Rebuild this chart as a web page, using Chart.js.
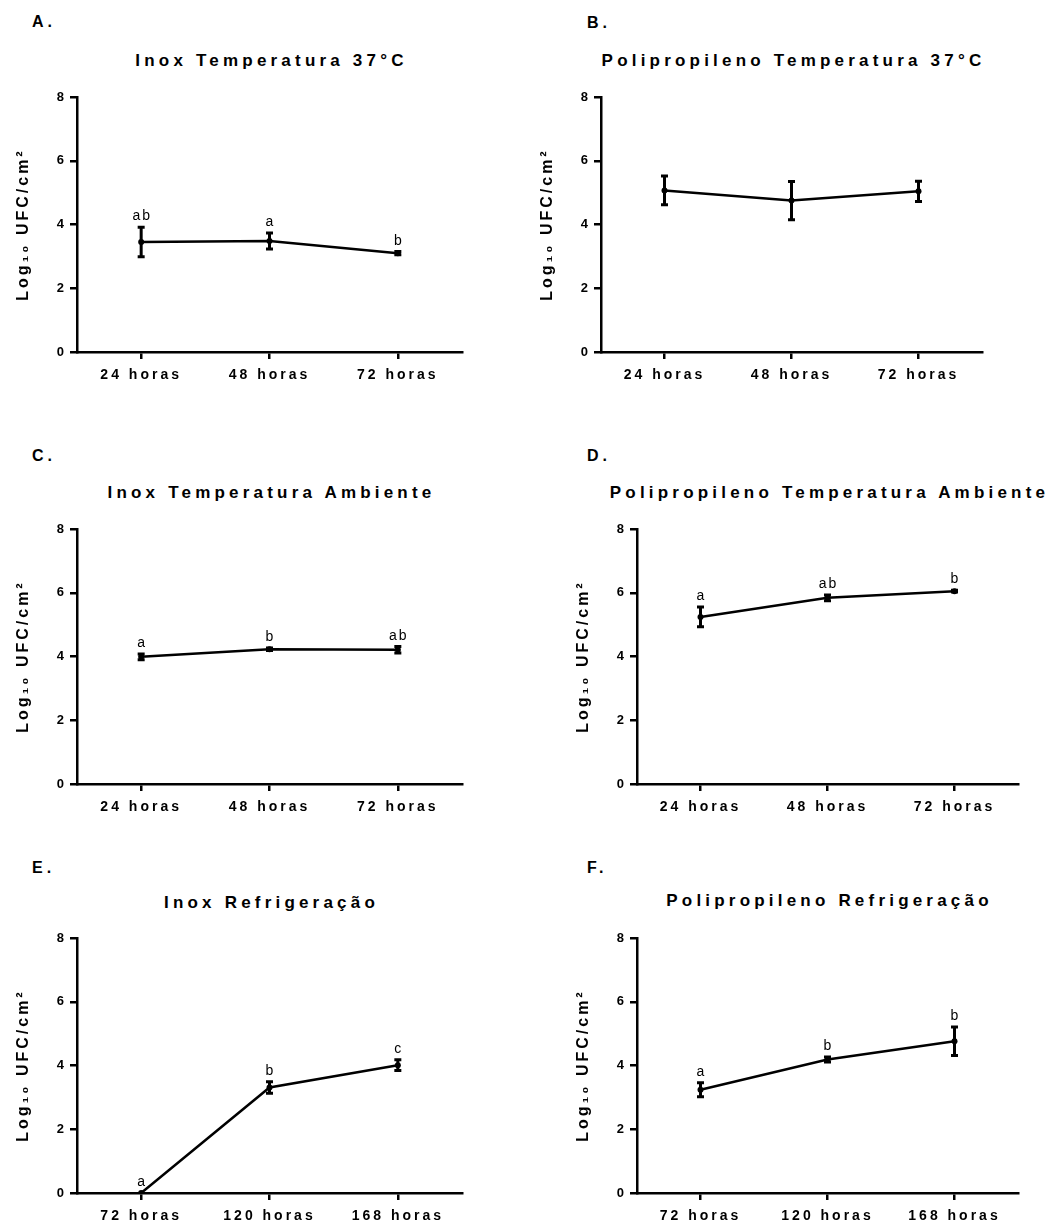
<!DOCTYPE html>
<html>
<head>
<meta charset="utf-8">
<script src="https://cdn.jsdelivr.net/npm/chart.js@4.4.1/dist/chart.umd.min.js"></script>
<style>
  html, body { margin: 0; padding: 0; background: #fff; overflow: hidden; }
  body { width: 1048px; height: 1223px; position: relative; font-family: "Liberation Sans", Arial, sans-serif; color: #000; }
  canvas { position: absolute; }
  .panel-tag { position: absolute; font-weight: bold; font-size: 16px; line-height: 16px; letter-spacing: 4px; white-space: nowrap; }
  .panel-title { position: absolute; width: 600px; text-align: center; font-weight: bold; font-size: 17px; line-height: 17px; letter-spacing: 4.2px; white-space: nowrap; }
</style>
</head>
<body>
<script>
const horasTemp = ['24 horas', '48 horas', '72 horas'];
const horasRefrig = ['72 horas', '120 horas', '168 horas'];

// Log10 UFC/cm2, media e erro (barra)
const inox37Media = [3.45, 3.48, 3.10];
const inox37Erro = [0.46, 0.25, 0.05];
const inox37Letras = ['ab', 'a', 'b'];

const pp37Media = [5.07, 4.75, 5.04];
const pp37Erro = [0.45, 0.60, 0.32];
const pp37Letras = ['', '', ''];

const inoxAmbMedia = [3.99, 4.23, 4.21];
const inoxAmbErro = [0.09, 0.04, 0.10];
const inoxAmbLetras = ['a', 'b', 'ab'];

const ppAmbMedia = [5.24, 5.84, 6.05];
const ppAmbErro = [0.31, 0.09, 0.03];
const ppAmbLetras = ['a', 'ab', 'b'];

const inoxRefMedia = [0, 3.31, 4.01];
const inoxRefErro = [0, 0.18, 0.17];
const inoxRefLetras = ['a', 'b', 'c'];

const ppRefMedia = [3.24, 4.19, 4.76];
const ppRefErro = [0.22, 0.08, 0.45];
const ppRefLetras = ['a', 'b', 'b'];

const fonte = '"Liberation Sans", Arial, sans-serif';

const paineis = [
  { tag: 'A.', titulo: 'Inox Temperatura 37°C', labels: horasTemp, media: inox37Media, erro: inox37Erro, letras: inox37Letras,
    left: 0, top: 77, width: 480, tagLeft: 32, tagTop: 13.5, tituloTop: 51.5 },
  { tag: 'B.', titulo: 'Polipropileno Temperatura 37°C', labels: horasTemp, media: pp37Media, erro: pp37Erro, letras: pp37Letras,
    left: 524, top: 77, width: 476, tagLeft: 587, tagTop: 14.5, tituloTop: 51.5 },
  { tag: 'C.', titulo: 'Inox Temperatura Ambiente', labels: horasTemp, media: inoxAmbMedia, erro: inoxAmbErro, letras: inoxAmbLetras,
    left: 0, top: 509, width: 480, tagLeft: 32, tagTop: 448, tituloTop: 483.5 },
  { tag: 'D.', titulo: 'Polipropileno Temperatura Ambiente', labels: horasTemp, media: ppAmbMedia, erro: ppAmbErro, letras: ppAmbLetras,
    left: 560, top: 509, width: 476, tagLeft: 587, tagTop: 448, tituloTop: 483.5 },
  { tag: 'E.', titulo: 'Inox Refrigeração', labels: horasRefrig, media: inoxRefMedia, erro: inoxRefErro, letras: inoxRefLetras,
    left: 0, top: 918, width: 480, tagLeft: 32, tagTop: 860, tituloTop: 893.5 },
  { tag: 'F.', titulo: 'Polipropileno Refrigeração', labels: horasRefrig, media: ppRefMedia, erro: ppRefErro, letras: ppRefLetras,
    left: 560, top: 918, width: 476, tagLeft: 587, tagTop: 860, tituloTop: 892 },
];

const espacamento = {
  id: 'espacamento',
  beforeDraw(chart) {
    chart.ctx.letterSpacing = '3px';
  }
};

// barras de erro + letras de significancia
const barrasErro = {
  id: 'barrasErro',
  afterDatasetsDraw(chart) {
    const ctx = chart.ctx;
    const xs = chart.scales.x;
    const ys = chart.scales.y;
    const ds = chart.data.datasets[0];

    ctx.save();
    ctx.strokeStyle = '#000';
    ctx.lineWidth = 3;
    ds.data.forEach((v, i) => {
      const e = ds.erro[i];
      if (!e) return;
      const px = xs.getPixelForValue(i);
      const top = ys.getPixelForValue(v + e);
      const bot = ys.getPixelForValue(v - e);
      ctx.beginPath();
      ctx.moveTo(px, top); ctx.lineTo(px, bot);
      ctx.moveTo(px - 3.5, top); ctx.lineTo(px + 3.5, top);
      ctx.moveTo(px - 3.5, bot); ctx.lineTo(px + 3.5, bot);
      ctx.stroke();
    });

    ctx.fillStyle = '#000';
    ctx.font = '14px ' + fonte;
    ctx.textAlign = 'center';
    ctx.textBaseline = 'alphabetic';
    ctx.letterSpacing = '2px';
    ds.data.forEach((v, i) => {
      const t = ds.letras[i];
      if (!t) return;
      const px = xs.getPixelForValue(i);
      const top = ys.getPixelForValue(v + (ds.erro[i] || 0));
      ctx.fillText(t, px + 1, top - 7);
    });
    ctx.restore();
  }
};

paineis.forEach(p => {
  const tag = document.createElement('div');
  tag.className = 'panel-tag';
  tag.textContent = p.tag;
  tag.style.left = p.tagLeft + 'px';
  tag.style.top = p.tagTop + 'px';
  document.body.appendChild(tag);

  // titulo centrado sobre a area do grafico
  const areaLeft = p.left + 77;
  const areaRight = p.left + p.width - 18;
  const centro = (areaLeft + areaRight) / 2;
  const titulo = document.createElement('div');
  titulo.className = 'panel-title';
  titulo.textContent = p.titulo;
  titulo.style.left = (centro - 300 + 2) + 'px';
  titulo.style.top = p.tituloTop + 'px';
  document.body.appendChild(titulo);

  const canvas = document.createElement('canvas');
  canvas.width = p.width;
  canvas.height = 313;
  canvas.style.left = p.left + 'px';
  canvas.style.top = p.top + 'px';
  document.body.appendChild(canvas);

  new Chart(canvas.getContext('2d'), {
    type: 'line',
    data: {
      labels: p.labels,
      datasets: [{
        data: p.media,
        erro: p.erro,
        letras: p.letras,
        borderColor: '#000',
        backgroundColor: '#000',
        borderWidth: 2.5,
        pointRadius: 3,
        pointBackgroundColor: '#000',
        pointBorderWidth: 0,
        tension: 0,
        fill: false,
      }],
    },
    options: {
      responsive: false,
      animation: false,
      devicePixelRatio: 1,
      layout: { padding: { top: 20, right: 18, bottom: 0, left: 0 } },
      plugins: {
        legend: { display: false },
        tooltip: { enabled: false },
      },
      scales: {
        x: {
          offset: true,
          ticks: { color: '#000', font: { size: 14, weight: 'bold', family: fonte }, padding: 8, maxRotation: 0 },
          grid: { drawOnChartArea: false, color: '#000', lineWidth: 2.5, tickLength: 7, offset: false },
          border: { color: '#000', width: 2.5 },
          afterFit(scale) { scale.height = 38; },
        },
        y: {
          min: 0,
          max: 8,
          ticks: { stepSize: 2, color: '#000', font: { size: 13, weight: 'bold', family: fonte }, padding: 3 },
          grid: { drawOnChartArea: false, color: '#000', lineWidth: 2.5, tickLength: 7 },
          border: { color: '#000', width: 2.5 },
          title: {
            display: true,
            text: 'Log₁₀ UFC/cm²',
            color: '#000',
            font: { size: 16, weight: 'bold', family: fonte },
            padding: { top: 14, bottom: 0 },
          },
          afterFit(scale) { scale.width = 77; },
        },
      },
    },
    plugins: [espacamento, barrasErro],
  });
});
</script>
</body>
</html>
